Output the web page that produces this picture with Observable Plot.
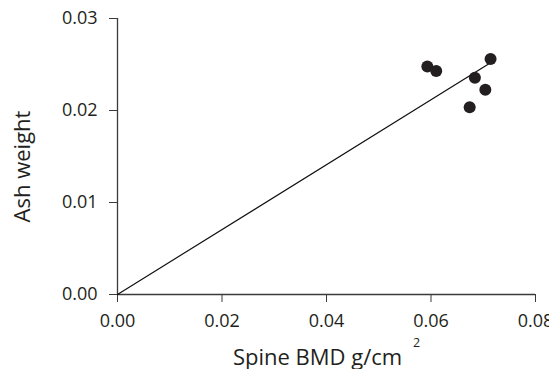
<!DOCTYPE html>
<html>
<head>
<meta charset="utf-8">
<script src="https://cdn.jsdelivr.net/npm/d3@7"></script>
<script src="https://cdn.jsdelivr.net/npm/@observablehq/plot@0.6"></script>
<style>
  html, body { margin: 0; padding: 0; background: #fff; }
</style>
</head>
<body>
<div id="chart"></div>
<script>
// Data
const spineBMD = [0.0593, 0.0610, 0.0714, 0.0684, 0.0704, 0.0674];
const ashWeight = [0.02478, 0.02429, 0.0256, 0.02355, 0.02225, 0.02036];
const fitX = [0, 0.0714];
const fitY = [0, 0.0252];
const xTicks = [0, 0.02, 0.04, 0.06, 0.08];
const yTicks = [0, 0.01, 0.02, 0.03];
const xLabel = "Spine BMD g/cm";
const xLabelSup = "2";
const yLabel = "Ash weight";

const points = spineBMD.map((x, i) => ({x, y: ashWeight[i]}));
const fit = fitX.map((x, i) => ({x, y: fitY[i]}));

const axisColor = "#3a3a3a";
const font = "Open Sans";

const chart = Plot.plot({
  width: 549,
  height: 369,
  marginLeft: 117,
  marginRight: 14,
  marginTop: 18,
  marginBottom: 75,
  style: {fontFamily: font, fontSize: "18px", color: "#231f20", background: "#fff"},
  x: {domain: [0, 0.08]},
  y: {domain: [0, 0.03]},
  marks: [
    Plot.axisX({ticks: xTicks, tickSize: 8, tickPadding: 12, tickFormat: d3.format(".2f"), label: null, stroke: axisColor, fill: "#231f20", fontSize: 18}),
    Plot.axisY({ticks: yTicks, tickSize: 8, tickPadding: 12, tickFormat: d3.format(".2f"), label: null, stroke: axisColor, fill: "#231f20", fontSize: 18}),
    Plot.ruleY([0], {stroke: axisColor, strokeWidth: 1.3}),
    Plot.ruleX([0], {stroke: axisColor, strokeWidth: 1.3}),
    Plot.line(fit, {x: "x", y: "y", stroke: "#111", strokeWidth: 1.2}),
    Plot.dot(points, {x: "x", y: "y", r: 6, fill: "#231f20", stroke: "none"}),
    Plot.text([xLabel], {frameAnchor: "bottom", text: d => d, textAnchor: "middle", lineAnchor: "bottom", dx: -9, dy: 70, fontSize: 22, fill: "#231f20"}),
    Plot.text([xLabelSup], {frameAnchor: "bottom", text: d => d, textAnchor: "middle", lineAnchor: "bottom", dx: 90, dy: 52, fontSize: 12.5, fill: "#231f20"}),
    Plot.text([yLabel], {frameAnchor: "left", text: d => d, rotate: -90, textAnchor: "middle", lineAnchor: "bottom", dx: -88, dy: 10, fontSize: 22, fill: "#231f20"})
  ]
});
document.getElementById("chart").appendChild(chart);
</script>
</body>
</html>
